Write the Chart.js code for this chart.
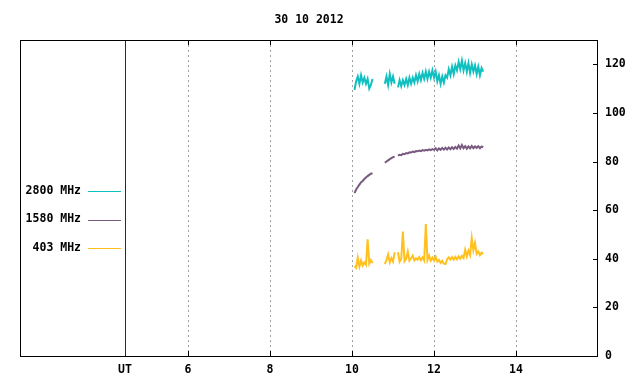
<!DOCTYPE html>
<html>
<head>
<meta charset="utf-8">
<script src="https://cdn.jsdelivr.net/npm/chart.js@4"></script>
<style>
  body { margin: 0; background: #fff; }
</style>
</head>
<body>
<canvas id="chart" width="640" height="384"></canvas>
<script>
// Время (UT, часы); null в рядах = разрыв в данных
const hours = [
  10.06, 10.10, 10.14, 10.18, 10.22, 10.26, 10.30, 10.34, 10.38, 10.42, 10.46, 10.50,
  10.65,
  10.80, 10.84, 10.88, 10.92, 10.96, 11.00, 11.04,
  11.08,
  11.12, 11.16, 11.20, 11.24, 11.28, 11.32, 11.36, 11.40, 11.44, 11.48,
  11.52, 11.56, 11.60, 11.64, 11.68, 11.72, 11.76, 11.80, 11.84, 11.88,
  11.92, 11.96, 12.00, 12.04, 12.08, 12.12, 12.16, 12.20, 12.24, 12.28,
  12.32, 12.36, 12.40, 12.44, 12.48, 12.52, 12.56, 12.60, 12.64, 12.68,
  12.72, 12.76, 12.80, 12.84, 12.88, 12.92, 12.96, 13.00, 13.04, 13.08,
  13.12, 13.16, 13.20
];

const flux2800 = [
  109.5, 113, 115, 112, 115.5, 112.5, 114.5, 112, 114, 110, 111.5, 114,
  null,
  112, 115, 111.5, 116, 112.5, 115, 112,
  null,
  110.5, 113.5, 111, 113.5, 111.5, 114, 111.5, 114.5, 112, 114.5,
  112.5, 115.5, 113, 116, 113.5, 116.5, 114, 117, 114, 117,
  114.5, 117.5, 114.5, 117, 113, 115.5, 112, 115, 112.5, 115.5,
  114.5, 118, 115.5, 119, 116, 119.5, 117.5, 121, 118, 121.5,
  117.5, 120.5, 117, 120.5, 116.5, 120, 117, 119.5, 116, 119,
  115.5, 118.5, 117
];

const flux1580 = [
  67, 68.5, 69.5, 70.5, 71.5, 72, 72.8, 73.4, 74, 74.5, 75, 75.2,
  null,
  79.5, 80, 80.5, 81, 81.4, 81.8, 82,
  null,
  82.4, 82.8, 82.6, 83.2, 83, 83.5, 83.3, 83.8, 83.7, 84.1,
  83.9, 84.3, 84.2, 84.5, 84.3, 84.7, 84.5, 84.8, 84.6, 85,
  84.7, 85.1, 84.8, 85.5, 84.6, 85.4, 84.8, 85.6, 84.9, 85.7,
  85, 85.8, 85.1, 85.9, 85.2, 86, 85.3, 86.6, 85.4, 86.8,
  85.5, 86.3, 85.3, 86.2, 85.4, 86.4, 85.5, 86.2, 85.6, 86.3,
  85.5, 86.2, 85.8
];

const flux403 = [
  37, 36.3, 40.5, 36.8, 39.3, 37.2, 38.5, 37.5, 48, 38, 39.5, 38.2,
  null,
  37.8, 39.5, 41.8, 38.5, 40.3, 38.8, 42.7,
  null,
  42.7, 38.8, 40, 51.2, 39, 40, 42.9, 39.2, 40.2, 41.3,
  39.3, 40.2, 39.6, 40.7, 39.4, 40.6, 39.3, 54.3, 39.5, 41.3,
  39.2, 40.5, 39.3, 40.8, 38.8, 39.5, 38.3, 39.2, 38, 37.8,
  39.8, 40.6, 39.7, 40.7, 39.6, 40.8, 39.8, 41, 40, 41.2,
  40.3, 43.7, 41, 43.3, 41.5, 48.5, 43.5, 46.5, 42, 43,
  41.5, 42.5, 42
];

const seriesLabels = ['2800 MHz', '1580 MHz', '403 MHz'];
const seriesColors = ['#10c0c0', '#785a80', '#ffc020'];

const utHour = 4.46;            // положение метки "UT"
const gridHours = [6, 8, 10, 12, 14];
const yTicks = [0, 20, 40, 60, 80, 100, 120];

Chart.defaults.font = { family: 'DejaVu Sans Mono', size: 11.5, weight: 'bold' };
Chart.defaults.color = '#000';

const toPoints = arr => hours.map((h, i) => ({ x: h, y: arr[i] }));

// Рамка, пунктирная сетка, засечки и легенда слева
const framePlugin = {
  id: 'frame',
  beforeDatasetsDraw(chart) {
    const { ctx, chartArea: a, scales: { x } } = chart;
    ctx.save();
    ctx.lineWidth = 1;
    ctx.strokeStyle = '#a0a0a0';
    ctx.setLineDash([2, 3]);
    gridHours.forEach(h => {
      const px = Math.round(x.getPixelForValue(h)) + 0.5;
      ctx.beginPath();
      ctx.moveTo(px, a.top);
      ctx.lineTo(px, a.bottom);
      ctx.stroke();
    });
    ctx.setLineDash([]);
    ctx.strokeStyle = '#8b0000';
    const ut = Math.round(x.getPixelForValue(utHour)) + 0.5;
    ctx.beginPath();
    ctx.moveTo(ut, a.top);
    ctx.lineTo(ut, a.bottom);
    ctx.stroke();
    ctx.restore();
  },
  afterDatasetsDraw(chart) {
    const { ctx, chartArea: a, scales: { x, y } } = chart;
    ctx.save();
    ctx.lineWidth = 1;
    ctx.strokeStyle = '#000';
    ctx.strokeRect(a.left + 0.5, a.top + 0.5, a.right - a.left - 1, a.bottom - a.top);
    ctx.beginPath();
    gridHours.forEach(h => {
      const px = Math.round(x.getPixelForValue(h)) + 0.5;
      ctx.moveTo(px, a.bottom);
      ctx.lineTo(px, a.bottom - 5);
      ctx.moveTo(px, a.top);
      ctx.lineTo(px, a.top + 5);
    });
    yTicks.forEach(v => {
      const py = Math.round(y.getPixelForValue(v)) + 0.5;
      ctx.moveTo(a.right, py);
      ctx.lineTo(a.right - 5, py);
    });
    ctx.stroke();

    // легенда
    ctx.font = "bold 11.5px 'DejaVu Sans Mono'";
    ctx.textAlign = 'right';
    ctx.textBaseline = 'middle';
    chart.data.datasets.forEach((ds, i) => {
      const ly = 191 + i * 28.5;
      ctx.fillStyle = '#000';
      ctx.fillText(ds.label, 81, ly);
      ctx.strokeStyle = ds.borderColor;
      ctx.beginPath();
      ctx.moveTo(88, Math.round(ly) + 0.5);
      ctx.lineTo(121, Math.round(ly) + 0.5);
      ctx.stroke();
    });
    ctx.restore();
  }
};

const ctx = document.getElementById('chart').getContext('2d');
const chart = new Chart(ctx, {
  type: 'line',
  data: {
    datasets: [flux2800, flux1580, flux403].map((arr, i) => ({
      label: seriesLabels[i],
      data: toPoints(arr),
      borderColor: seriesColors[i],
      borderWidth: 2,
      pointRadius: 0,
      tension: 0,
      spanGaps: false
    }))
  },
  options: {
    responsive: false,
    animation: false,
    layout: { padding: { left: 20, right: 0, top: 0, bottom: 0 } },
    plugins: {
      legend: { display: false },
      tooltip: { enabled: false },
      title: {
        display: true,
        text: '30 10 2012',
        fullSize: false,
        color: '#000',
        font: { family: 'DejaVu Sans Mono', size: 11.5, weight: 'bold' },
        padding: { top: 13, bottom: 13.2 }
      }
    },
    scales: {
      x: {
        type: 'linear',
        min: 1.9,
        max: 16,
        grid: { display: false, drawTicks: false },
        border: { display: false },
        afterBuildTicks: s => { s.ticks = [utHour, ...gridHours].map(v => ({ value: v })); },
        afterFit: s => { s.height = 28; },
        ticks: {
          autoSkip: false,
          maxRotation: 0,
          padding: 7,
          callback: v => (v === utHour ? 'UT' : v)
        }
      },
      y: {
        position: 'right',
        min: 0,
        max: 130,
        grid: { display: false, drawTicks: false },
        border: { display: false },
        afterBuildTicks: s => { s.ticks = yTicks.map(v => ({ value: v })); },
        afterFit: s => { s.width = 42; },
        ticks: { padding: 7 }
      }
    }
  },
  plugins: [framePlugin]
});
</script>
</body>
</html>
